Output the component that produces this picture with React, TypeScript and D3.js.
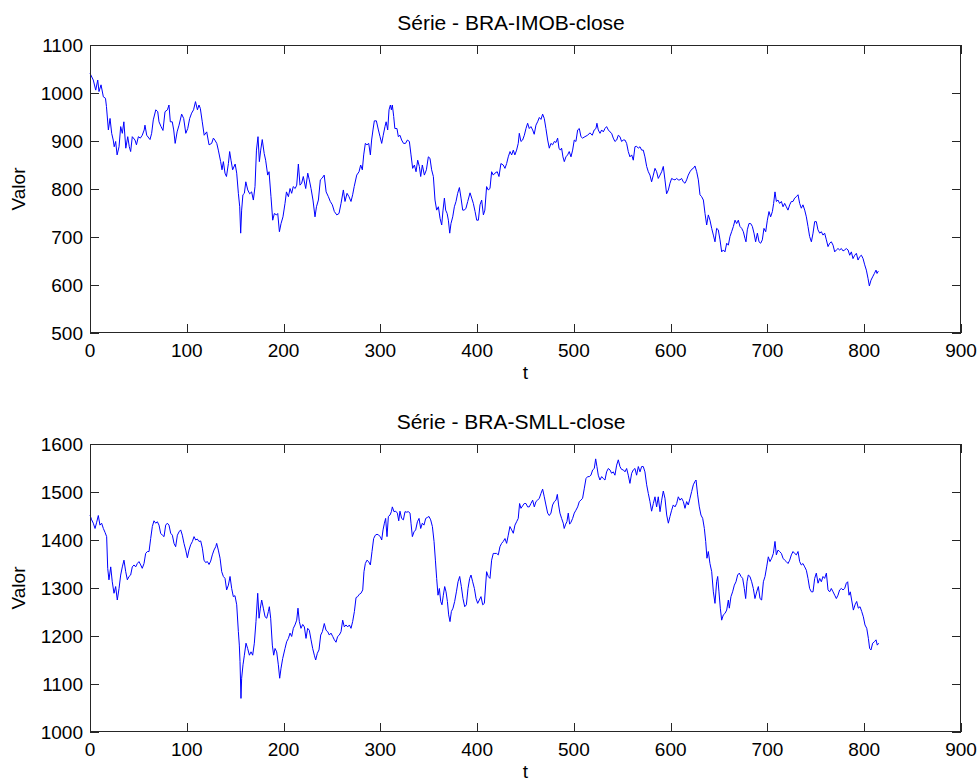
import React from 'react';
import * as d3 from 'd3';

// BRA-IMOB-close: [t, value]
const imobSeries: [number, number][] = [
[0,1041],[3.4,1027],[5.9,1006],[8,1027],[9.3,1003],[11.4,1017],[13.8,992],[16,989],[17,972],[19,923],[20.7,947],[22.4,916],[24,902],[25,888],[26.5,899],[28,871],[30,888],[31.7,930],[33.4,916],[35,940],[37,885],[39,909],[40.6,888],[42,878],[43.7,909],[46.5,902],[48,892],[50,909],[52,906],[54,912],[56,923],[56.8,933],[58.6,912],[62,903],[63.7,916],[65.4,944],[68,965],[70,961],[71.3,940],[73.4,930],[75.4,922],[77.5,961],[80,965],[81.6,975],[83,940],[85,940],[86.5,923],[88,895],[90,919],[92,933],[94.7,956],[96.8,947],[99,916],[101,926],[103,947],[105,958],[107,965],[109,982],[111,965],[112.6,975],[114,968],[116,940],[118,912],[120.6,919],[123,892],[125.7,895],[127.5,906],[129,902],[131,895],[132.6,881],[135,857],[136.4,840],[137.8,857],[139.5,833],[141,826],[143,853],[144.3,878],[145.7,860],[147.4,840],[150,852],[151.6,833],[153.3,791],[154.7,763],[155.7,708],[156.7,756],[158,788],[159.5,791],[161,815],[163,798],[165,790],[167,794],[168.8,777],[170.5,805],[172,881],[173.6,909],[175,857],[176.4,881],[178,903],[180,874],[181.5,860],[183.6,829],[185,836],[187,784],[188.8,735],[190.5,749],[192.6,746],[194,749],[195.7,711],[197.4,728],[199.4,742],
[201.5,770],[203,794],[205,784],[206.7,801],[208.4,791],[210,805],[212,801],[213.6,808],[215.3,852],[217,808],[218.7,812],[220.4,826],[222.9,801],[225,833],[226.6,819],[228.4,801],[230.4,777],[232.5,742],[234,763],[236,777],[238,819],[240,823],[242,829],[244,794],[246.3,784],[248.3,774],[250.4,767],[252.5,753],[255,746],[257.3,749],[259.4,770],[261.8,798],[263.5,774],[265.6,791],[267.6,784],[269.7,774],[271.4,788],[273,805],[275.6,829],[278,836],[279.7,850],[281.4,840],[282.8,871],[284.5,895],[286.2,892],[288,895],[289.7,871],[291,902],[292.4,923],[293.8,942],[295.9,942],[298,923],[299.7,909],[301.4,895],[303,912],[304.8,930],[306,940],[307.6,923],[309,965],[310.4,975],[311.4,965],[312.4,975],[313.8,951],[315,926],[317.2,926],[318.6,909],[320.3,912],[322,902],[324,895],[326,895],[328,902],[330,899],[331.7,871],[333.4,843],[335.2,850],[336.9,836],[338.6,860],[340.3,847],[341.7,826],[343.4,850],[345.5,829],[347.6,840],[349.6,867],[351.3,864],[353,840],[354.8,826],[356.5,777],[358.2,756],[360,763],[361.7,739],[363.4,725],[364.8,756],[366.2,781],[367.5,756],[369,749],[370.3,735],[371.7,708],[373,728],[374.8,742],[376.5,763],[378.2,774],[379.9,791],[381.7,803],[383.4,781],[385.1,756],[386.8,756],[388.5,760],[390.3,774],[392.7,792],[394.4,781],[396.1,770],[397.9,753],[399.6,735],[401.3,735],[403,767],[404.7,777],[406.5,746],
[408,756],[409.8,805],[411.5,798],[413.3,801],[415,836],[416.7,829],[418.4,833],[420.8,836],[422.6,826],[424.6,853],[427,850],[428.8,843],[430.5,853],[432.2,867],[434,878],[435.7,871],[437.4,881],[439,871],[440.8,881],[442.5,895],[443.6,916],[445.3,899],[447,902],[448.8,912],[450.5,926],[452.2,937],[453.9,926],[455.6,930],[457.4,923],[459,914],[460.8,933],[462.5,940],[464.3,949],[466,945],[467.7,956],[469.4,947],[471.1,926],[472.9,902],[474.6,885],[476.3,895],[478,892],[479.8,899],[481.5,897],[483.2,906],[484.6,885],[486,881],[487.3,885],[488.7,867],[490.1,857],[491.8,867],[493.5,871],[495.2,878],[497,867],[498.7,881],[500.4,902],[502.1,899],[503.9,923],[505.6,926],[507.3,909],[509,906],[511.4,909],[514.2,912],[516.6,917],[519,912],[521,923],[522.8,926],[523.8,937],[525.2,923],[527,916],[528.7,923],[530.4,919],[532.1,926],[533.8,930],[535.6,923],[537.3,919],[539,916],[540.7,906],[542.4,899],[544.2,902],[545.9,912],[547.6,909],[549.3,899],[551,902],[552.8,902],[554.5,895],[556.2,878],[557.9,867],[559.7,871],[561.4,860],[563.1,888],[564.8,889],[566.6,885],[568.3,888],[570,881],[571.7,881],[573.4,867],[575.2,847],[576.9,836],[578.6,829],[580.3,815],[582.1,829],[583.8,843],[585.5,836],[587.2,822],[589,829],[590.7,836],[592.4,847],[594.1,819],[595.8,790],[597.6,798],[599.3,812],[601,822],[602.7,820],[604.5,819],[606.2,822],[607.9,819],[609.6,819],[611.3,822],[613,815],
[614.8,812],[616.5,819],[618.2,829],[620,836],[621.7,841],[623.4,843],[625.1,848],[626.9,836],[628.6,819],[630.3,788],[632,784],[633.8,777],[635.5,749],[637.2,725],[638.9,746],[640.6,735],[642.4,718],[644.1,704],[645.8,690],[647.5,718],[649.2,715],[651,694],[652.7,669],[654.4,673],[656.1,669],[657.9,687],[659.6,683],[661.3,701],[663,711],[664.8,722],[666.5,735],[668.2,728],[669.9,735],[671.6,722],[673.4,718],[675.1,711],[676.8,697],[677.8,690],[679.2,715],[680.9,728],[682.7,728],[684.4,722],[686.1,708],[687.8,690],[689.6,708],[691.3,690],[693,687],[694.7,694],[696.4,718],[698.2,711],[699.9,735],[701.6,753],[703.3,742],[705.1,753],[706.4,770],[707.8,794],[709.2,774],[710.9,777],[712.6,770],[714.4,774],[716.1,763],[717.8,770],[719.5,763],[721.2,756],[723,767],[724.7,774],[726.4,774],[728.1,781],[729.9,784],[731.6,788],[733.3,770],[735,760],[736.7,767],[738.5,756],[740.2,742],[741.9,722],[743.6,701],[745.4,690],[747.1,708],[748.8,732],[750.5,732],[752.2,715],[754,708],[755.7,711],[757.4,704],[759.1,708],[760.9,694],[762.6,680],[764.3,687],[766,690],[767.8,683],[769.5,669],[771.2,673],[772.9,676],[774.6,673],[776.4,676],[778.1,671],[779.8,673],[781.5,676],[783.3,673],[785,662],[786.7,669],[788.4,655],[790.2,662],[791.9,666],[793.6,652],[795.3,659],[797.1,662],[798.8,655],[800.5,642],[802.2,631],[803.9,614],[805.3,598],[807,610],[808.7,617],[810.5,624],[812.2,631],[813.2,624],[814.6,629]
];

// BRA-SMLL-close: [t, value]
const smllSeries: [number, number][] = [
[0,1452],[1.7,1442],[3.4,1435],[5.2,1424],[6.9,1437],[8.6,1451],[10.3,1431],[12,1435],[13.8,1424],[15.5,1416],[17.2,1407],[18.3,1341],[19.6,1317],[21.4,1344],[23,1313],[24.8,1289],[26.5,1303],[28.2,1275],[30,1299],[31.7,1327],[33.4,1344],[35.1,1358],[36.9,1334],[38.6,1317],[40.3,1324],[42,1327],[43.7,1344],[45.5,1348],[47.2,1344],[48.9,1351],[50.6,1355],[52.4,1348],[54,1341],[55.8,1351],[57.5,1372],[59.3,1376],[61,1376],[62.7,1403],[64.4,1428],[66.1,1440],[67.9,1435],[69.6,1438],[71.3,1431],[73,1414],[74.8,1410],[76.5,1407],[78.2,1431],[79.9,1435],[81.6,1431],[83.4,1414],[85.1,1410],[86.8,1393],[88.5,1386],[90.3,1410],[92,1417],[93.7,1421],[95.4,1410],[97.1,1393],[98.9,1379],[100.6,1363],[102.3,1379],[104,1390],[105.8,1397],[107.5,1407],[109.2,1400],[110.9,1402],[112.6,1397],[114.4,1398],[116.1,1383],[117.8,1358],[119.5,1353],[121.3,1355],[123,1349],[124.7,1356],[126.4,1369],[128.1,1379],[129.9,1386],[130.9,1393],[132.6,1379],[134.4,1362],[136.1,1334],[137.8,1324],[139.5,1320],[141.2,1296],[143,1306],[144.7,1324],[146.4,1299],[148.1,1282],[149.8,1284],[151.6,1265],[153.3,1209],[154.3,1181],[155,1147],[156,1070],[156.7,1112],[158.1,1140],[159.5,1160],[161.2,1185],[162.9,1174],[164.7,1160],[166.4,1167],[168.1,1160],[169.8,1185],[171.5,1230],[173.3,1289],[174.7,1237],[176,1258],[177.4,1275],[179.1,1258],[180.9,1240],[182.6,1237],[184.3,1251],[185.3,1261],[186.7,1237],[188.4,1181],[189.8,1160],[191.2,1174],[192.9,1167],[194.6,1140],[196,1112],[197.4,1133],[199.1,1153],
[201.5,1174],[203.2,1188],[205,1195],[206.7,1206],[208.4,1199],[210.1,1216],[211.8,1223],[213.6,1233],[214.9,1258],[216.3,1230],[218,1216],[219.8,1224],[221.5,1219],[223.2,1195],[224.9,1216],[226.6,1212],[228.4,1192],[230.1,1174],[231.8,1160],[233.2,1150],[234.9,1164],[236.6,1171],[238.4,1202],[240.1,1209],[242.1,1226],[243.9,1212],[245.6,1209],[247.3,1202],[249,1206],[250.8,1199],[252.5,1192],[254.2,1187],[255.9,1199],[257.6,1202],[259.4,1209],[261.1,1233],[262.8,1219],[264.5,1223],[266.3,1219],[268,1223],[269.7,1216],[271.4,1230],[273.2,1251],[274.9,1280],[276.6,1282],[278.3,1287],[280,1289],[281.8,1296],[283.1,1334],[284.5,1351],[286.2,1358],[287.9,1355],[289.7,1348],[291.4,1376],[293.1,1403],[294.8,1410],[296.6,1412],[298.3,1410],[300,1407],[301.4,1400],[302.8,1421],[304.2,1435],[305.5,1445],[306.9,1407],[308.3,1449],[310,1452],[311.4,1459],[312.4,1469],[314.1,1459],[315.9,1460],[317.6,1456],[319,1440],[320.3,1460],[322,1445],[323.8,1442],[325.5,1459],[327.2,1458],[328.9,1459],[330.7,1456],[331.7,1435],[333.1,1407],[334.8,1417],[336.5,1421],[338.3,1438],[340,1445],[341.7,1424],[343.4,1435],[345.1,1431],[346.9,1445],[348.6,1447],[350.3,1449],[352,1442],[353.8,1428],[355.5,1397],[356.9,1358],[358.2,1320],[359.6,1285],[361,1299],[362.4,1272],[363.7,1265],[365.1,1285],[366.5,1303],[367.9,1292],[369.3,1272],[370.6,1244],[372,1230],[373.4,1251],[375.1,1258],[376.8,1272],[378.6,1292],[380.3,1313],[382,1324],[383.7,1303],[385.4,1278],[387.2,1261],[388.9,1265],[390.6,1299],[392.3,1320],[393.7,1327],[395.4,1313],[397.2,1299],[398.9,1278],[400.6,1268],[402.3,1275],[404,1282],[405.8,1265],[407.5,1268],
[409.8,1334],[411.5,1324],[413.3,1320],[415,1358],[416.7,1372],[418.4,1372],[420.1,1372],[421.9,1369],[423.6,1386],[425.3,1393],[427,1397],[428.8,1403],[430.5,1393],[432.2,1410],[433.9,1428],[435.7,1421],[437.4,1414],[439.1,1431],[440.8,1438],[442.5,1445],[443.9,1476],[445.3,1466],[447,1471],[448.7,1476],[450.5,1476],[452.2,1469],[453.9,1469],[455.6,1476],[457.4,1483],[459.1,1469],[460.8,1480],[462.5,1483],[464.3,1487],[466,1497],[467.7,1506],[469.4,1490],[471.1,1473],[472.9,1456],[474.6,1451],[476.3,1456],[478,1473],[479.8,1480],[481.5,1483],[482.9,1495],[484.2,1473],[485.6,1456],[487.3,1445],[489,1435],[490,1424],[491.5,1433],[492.8,1438],[494.2,1456],[495.6,1433],[497,1437],[498.7,1445],[500.4,1456],[502.1,1462],[503.9,1469],[505.6,1480],[507.3,1483],[509,1487],[510.8,1508],[512.5,1528],[514.2,1532],[515.9,1532],[517.6,1535],[519.4,1546],[521.1,1549],[522.5,1569],[523.8,1553],[525.2,1535],[526.9,1525],[528.7,1532],[530.4,1528],[532.1,1525],[533.8,1542],[535.6,1549],[537.3,1546],[539,1539],[540.7,1542],[542.4,1535],[544.2,1556],[545.9,1567],[547.6,1553],[549.3,1547],[551.1,1546],[552.8,1542],[554.5,1549],[556.2,1535],[557.9,1518],[559.7,1539],[561.4,1546],[563.1,1549],[564.8,1535],[566.6,1553],[568.3,1542],[570,1553],[571.7,1553],[573.4,1542],[575.2,1515],[576.9,1497],[578.6,1480],[580.3,1460],[582.1,1476],[583.8,1490],[585.5,1469],[587.2,1490],[589,1459],[590.7,1483],[592.4,1502],[594.1,1487],[595.9,1452],[597.6,1435],[599.3,1449],[601,1462],[602.7,1473],[604.5,1469],[606.2,1476],[607.9,1490],[609.6,1483],[611.3,1487],[613.1,1480],
[614.8,1466],[616.5,1480],[618.2,1473],[620,1487],[621.7,1501],[623.4,1515],[625.1,1522],[626.2,1525],[627.9,1494],[629.6,1469],[631.3,1452],[633.1,1445],[634.8,1424],[636.2,1397],[637.5,1362],[638.9,1376],[640.6,1351],[642.4,1334],[644.1,1292],[645.8,1268],[647.5,1313],[648.6,1324],[649.9,1292],[651.3,1258],[652.7,1233],[654.4,1244],[656.1,1247],[657.9,1254],[659.6,1275],[660.6,1258],[662.3,1282],[664,1292],[665.8,1306],[667.5,1313],[669.2,1327],[670.9,1331],[672.7,1324],[674.4,1320],[676.1,1299],[677.5,1278],[678.9,1313],[680.2,1327],[681.9,1324],[683.7,1313],[685.4,1299],[687.1,1278],[688.9,1292],[690.6,1303],[692.3,1278],[694,1275],[695.8,1313],[697.5,1324],[699.2,1344],[700.9,1365],[702.6,1355],[704.4,1362],[706.1,1372],[707.8,1397],[709.2,1369],[710.9,1379],[712.6,1376],[714.4,1372],[716.1,1362],[717.8,1358],[719.5,1355],[721.3,1351],[723,1358],[724.7,1369],[726.4,1376],[728.1,1372],[729.9,1369],[731.6,1376],[733.3,1355],[735,1348],[736.7,1351],[738.5,1344],[740.2,1337],[741.9,1320],[743.6,1299],[745.4,1292],[747.1,1292],[748.8,1320],[750.5,1331],[752.3,1310],[754,1320],[755.7,1313],[757.4,1324],[759.1,1320],[760.9,1331],[762.6,1296],[764.3,1292],[766,1299],[767.8,1292],[769.5,1285],[771.2,1278],[772.9,1285],[774.6,1296],[776.4,1299],[778.1,1296],[779.8,1299],[781.5,1310],[782.9,1313],[784.3,1285],[785.6,1292],[787,1275],[788.8,1254],[790.5,1265],[792.2,1272],[793.9,1258],[795.7,1261],[797.4,1251],[799.1,1240],[800.8,1223],[802.6,1216],[804.3,1195],[805.6,1174],[807,1171],[808.7,1185],[810.5,1188],[812.2,1192],[813.5,1181],[814.9,1185]
];

const xTicks = [0, 100, 200, 300, 400, 500, 600, 700, 800, 900];
const imobYTicks = [500, 600, 700, 800, 900, 1000, 1100];
const smllYTicks = [1000, 1100, 1200, 1300, 1400, 1500, 1600];
const titles = ['Série - BRA-IMOB-close', 'Série - BRA-SMLL-close'];
const xLabel = 't';
const yLabel = 'Valor';

const FONT = 'Liberation Sans, Arial, Helvetica, sans-serif';
const LEFT = 90;
const RIGHT = 961;
const PH = 288;
const TICK = 9;
const AXIS = '#262626';

interface PanelProps {
  top: number;
  title: string;
  data: [number, number][];
  yTicks: number[];
}

function Panel({ top, title, data, yTicks }: PanelProps) {
  const x = d3.scaleLinear().domain([0, 900]).range([LEFT, RIGHT]);
  const y = d3.scaleLinear().domain([yTicks[0], yTicks[yTicks.length - 1]]).range([top + PH, top]);
  const line = d3.line<[number, number]>().x(d => x(d[0])).y(d => y(d[1]));
  const bottom = top + PH;
  return (
    <g>
      <rect x={LEFT} y={top} width={RIGHT - LEFT} height={PH} fill="#fff" />
      <path d={line(data) || ''} fill="none" stroke="#0000ff" strokeWidth={1} />
      <rect x={LEFT + 0.5} y={top + 0.5} width={RIGHT - LEFT - 1} height={PH - 1} fill="none" stroke={AXIS} strokeWidth={1} />
      {xTicks.map(t => (
        <g key={'x' + t}>
          <line x1={Math.round(x(t)) + 0.5} x2={Math.round(x(t)) + 0.5} y1={bottom} y2={bottom - TICK} stroke={AXIS} />
          <line x1={Math.round(x(t)) + 0.5} x2={Math.round(x(t)) + 0.5} y1={top} y2={top + TICK} stroke={AXIS} />
          <text x={x(t)} y={bottom + 24} textAnchor="middle" fontSize={19} fontFamily={FONT} fill="#000">{t}</text>
        </g>
      ))}
      {yTicks.map(v => (
        <g key={'y' + v}>
          <line x1={LEFT} x2={LEFT + TICK} y1={Math.round(y(v)) + 0.5} y2={Math.round(y(v)) + 0.5} stroke={AXIS} />
          <line x1={RIGHT} x2={RIGHT - TICK} y1={Math.round(y(v)) + 0.5} y2={Math.round(y(v)) + 0.5} stroke={AXIS} />
          <text x={LEFT - 7} y={y(v)} dy="0.35em" textAnchor="end" fontSize={19} fontFamily={FONT} fill="#000">{v}</text>
        </g>
      ))}
      <text x={511} y={top - 15} textAnchor="middle" fontSize={21} fontFamily={FONT} fill="#000">{title}</text>
      <text x={(LEFT + RIGHT) / 2} y={bottom + 46} textAnchor="middle" fontSize={19} fontFamily={FONT} fill="#000">{xLabel}</text>
      <text transform={`translate(25,${top + PH / 2}) rotate(-90)`} textAnchor="middle" fontSize={19} fontFamily={FONT} fill="#000">{yLabel}</text>
    </g>
  );
}

export default function App() {
  return (
    <div style={{ position: 'absolute', left: 0, top: 0 }}>
      <svg width={979} height={781} style={{ display: 'block', background: '#fff' }}>
        <rect width={979} height={781} fill="#fff" />
        <Panel top={45} title={titles[0]} data={imobSeries} yTicks={imobYTicks} />
        <Panel top={444} title={titles[1]} data={smllSeries} yTicks={smllYTicks} />
      </svg>
    </div>
  );
}
